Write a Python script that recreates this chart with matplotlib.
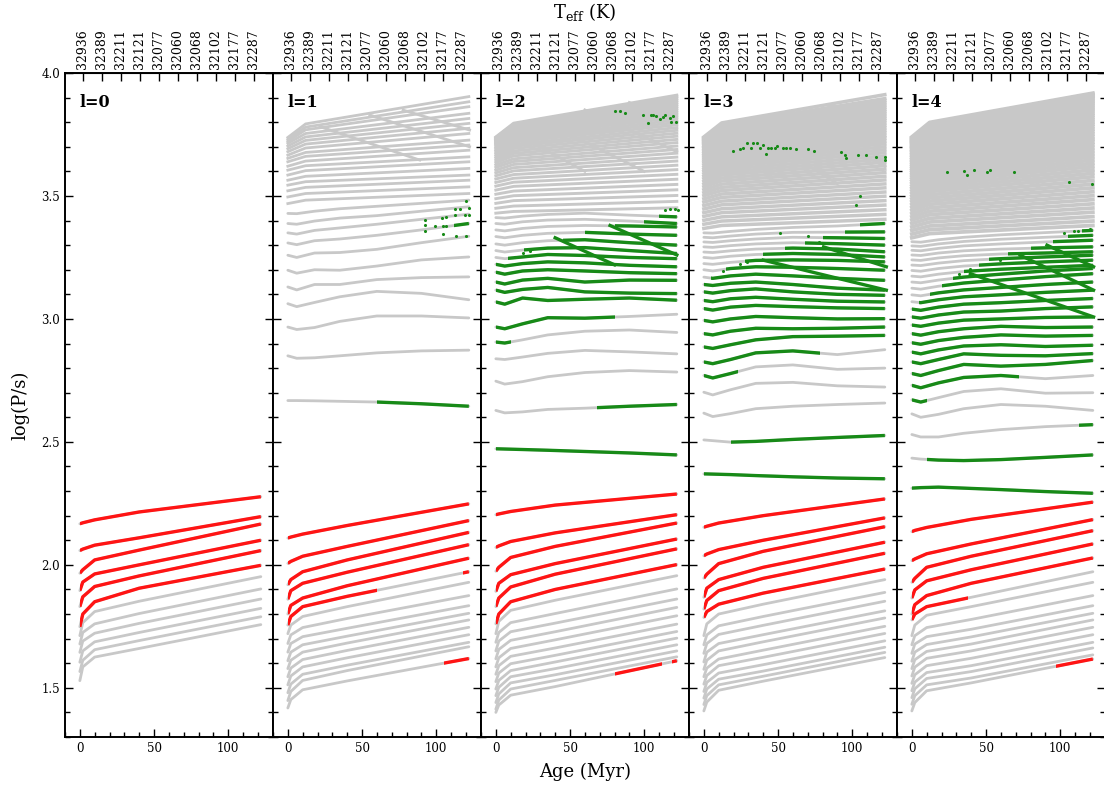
import numpy as np
import matplotlib
matplotlib.use("Agg")
import matplotlib.pyplot as plt
from matplotlib.patches import Rectangle
from matplotlib.ticker import MultipleLocator, FixedLocator, NullLocator

plt.rcParams['font.family'] = ['DejaVu Serif']
plt.rcParams['mathtext.fontset'] = 'dejavuserif'

GRAY = "#c8c8c8"
RED = "#ff1414"
GREEN = "#178a17"

PANEL_LABELS = ["l=0", "l=1", "l=2", "l=3", "l=4"]
TEFF_AGES = [2.0, 14.8, 27.6, 40.4, 53.2, 66.0, 78.8, 91.6, 104.4, 117.2]
TEFF_LABELS = ["32936", "32389", "32211", "32121", "32077", "32060", "32068", "32102", "32177", "32287"]

LOW_AGES = [0, 2, 10, 40, 122]
MID_AGES = [0, 6, 18, 35, 60, 90, 122]
TOP_AGES = [0, 12, 122]

# ---------------- l = 0 ----------------
L0_LOW = [
    [2.167, 2.171, 2.183, 2.215, 2.277],
    [2.058, 2.064, 2.080, 2.110, 2.196],
    [1.966, 1.980, 2.020, 2.060, 2.166],
    [1.895, 1.930, 1.963, 2.000, 2.100],
    [1.830, 1.870, 1.912, 1.955, 2.058],
    [1.748, 1.800, 1.850, 1.905, 1.998],
    [1.712, 1.765, 1.810, 1.852, 1.952],
    [1.678, 1.725, 1.760, 1.802, 1.902],
    [1.644, 1.690, 1.722, 1.762, 1.861],
    [1.604, 1.650, 1.687, 1.725, 1.823],
    [1.566, 1.612, 1.655, 1.692, 1.789],
    [1.529, 1.585, 1.625, 1.660, 1.757],
]
L0_LOW_RED = [[(0, 123)]] * 6 + [[]] * 6

# ---------------- l = 1 ----------------
L1_LOW = [
    [2.109, 2.113, 2.125, 2.160, 2.248],
    [2.006, 2.014, 2.035, 2.075, 2.180],
    [1.919, 1.940, 1.972, 2.020, 2.132],
    [1.860, 1.895, 1.925, 1.970, 2.082],
    [1.800, 1.835, 1.865, 1.915, 2.027],
    [1.755, 1.790, 1.830, 1.872, 1.972],
    [1.720, 1.755, 1.790, 1.830, 1.929],
    [1.680, 1.715, 1.745, 1.782, 1.875],
    [1.645, 1.680, 1.708, 1.742, 1.834],
    [1.610, 1.645, 1.675, 1.710, 1.803],
    [1.578, 1.612, 1.645, 1.682, 1.776],
    [1.545, 1.580, 1.615, 1.652, 1.746],
    [1.512, 1.548, 1.585, 1.622, 1.716],
    [1.480, 1.515, 1.555, 1.592, 1.685],
    [1.448, 1.485, 1.530, 1.570, 1.667],
    [1.418, 1.452, 1.492, 1.528, 1.619],
]
L1_LOW_RED = [[(0, 123)]] * 5 + [[(0, 60), (118, 123)]] + [[]] * 9 + [[(105, 123)]]

L1_MID = [
    [2.668, 2.668, 2.667, 2.665, 2.662, 2.655, 2.645],
    [2.850, 2.840, 2.842, 2.850, 2.862, 2.870, 2.873],
    [2.967, 2.957, 2.965, 2.990, 3.012, 3.012, 3.004],
    [3.062, 3.050, 3.067, 3.090, 3.112, 3.104, 3.078],
    [3.130, 3.118, 3.140, 3.140, 3.160, 3.168, 3.171],
    [3.198, 3.186, 3.200, 3.198, 3.215, 3.240, 3.252],
    [3.259, 3.250, 3.268, 3.270, 3.283, 3.310, 3.336],
    [3.309, 3.302, 3.318, 3.325, 3.340, 3.362, 3.388],
    [3.350, 3.345, 3.360, 3.370, 3.385, 3.405, 3.426],
    [3.388, 3.385, 3.398, 3.410, 3.420, 3.438, 3.456],
    [3.429, 3.428, 3.438, 3.448, 3.458, 3.470, 3.483],
]
L1_MID_GREEN = [[(60, 123)], [], [], [], [], [], [], [(112, 123)], [], [], []]

L1_TOP_V0 = [3.469, 3.496, 3.521, 3.544, 3.564, 3.585, 3.605, 3.621, 3.639, 3.653, 3.666, 3.680, 3.692, 3.703, 3.714, 3.722, 3.730, 3.738]
L1_TOP_V12 = [3.483, 3.510, 3.535, 3.558, 3.580, 3.603, 3.623, 3.642, 3.661, 3.677, 3.695, 3.711, 3.726, 3.740, 3.754, 3.769, 3.780, 3.793]
L1_TOP_V122 = [3.510, 3.537, 3.564, 3.585, 3.612, 3.639, 3.659, 3.686, 3.707, 3.727, 3.754, 3.775, 3.795, 3.815, 3.836, 3.863, 3.883, 3.904]

L1_DIAG_GRAY = [(21.6, 3.782, 88.9, 3.646), (55.3, 3.829, 122.5, 3.700), (77.7, 3.849, 122.5, 3.768)]
L1_DIAG_GREEN = []
L1_GDOTS = [(92.3, 3.404), (92.3, 3.381), (92.3, 3.357), (99.0, 3.378), (104.1, 3.412), (104.6, 3.378),
            (104.6, 3.347), (106.8, 3.415), (106.8, 3.378), (112.5, 3.449), (112.5, 3.422), (113.1, 3.338),
            (115.8, 3.449), (119.2, 3.422), (119.8, 3.336), (120.3, 3.479), (122.1, 3.452), (122.1, 3.422)]

# ---------------- l = 2 ----------------
L2_LOW = [
    [2.204, 2.207, 2.217, 2.243, 2.288],
    [2.071, 2.077, 2.095, 2.130, 2.204],
    [1.974, 1.990, 2.030, 2.075, 2.170],
    [1.892, 1.925, 1.960, 2.005, 2.105],
    [1.830, 1.865, 1.910, 1.962, 2.065],
    [1.760, 1.800, 1.850, 1.900, 2.001],
    [1.720, 1.770, 1.815, 1.856, 1.956],
    [1.685, 1.725, 1.765, 1.802, 1.902],
    [1.650, 1.690, 1.728, 1.763, 1.861],
    [1.618, 1.656, 1.693, 1.728, 1.827],
    [1.585, 1.622, 1.660, 1.695, 1.793],
    [1.555, 1.590, 1.628, 1.662, 1.759],
    [1.525, 1.560, 1.598, 1.632, 1.729],
    [1.495, 1.530, 1.570, 1.605, 1.702],
    [1.468, 1.502, 1.545, 1.578, 1.675],
    [1.440, 1.475, 1.520, 1.553, 1.650],
    [1.413, 1.450, 1.495, 1.530, 1.626],
    [1.400, 1.430, 1.470, 1.505, 1.610],
]
L2_LOW_RED = [[(0, 123)]] * 6 + [[]] * 11 + [[(80, 112), (119, 123)]]

L2_MID = [
    [2.472, 2.471, 2.469, 2.466, 2.461, 2.455, 2.447],
    [2.628, 2.618, 2.622, 2.632, 2.637, 2.645, 2.652],
    [2.747, 2.735, 2.745, 2.765, 2.782, 2.790, 2.784],
    [2.838, 2.835, 2.845, 2.860, 2.872, 2.866, 2.858],
    [2.906, 2.902, 2.915, 2.935, 2.950, 2.955, 2.945],
    [2.967, 2.960, 2.980, 3.005, 3.003, 3.010, 3.019],
    [3.069, 3.060, 3.085, 3.075, 3.080, 3.085, 3.076],
    [3.117, 3.108, 3.120, 3.128, 3.110, 3.105, 3.103],
    [3.150, 3.142, 3.158, 3.165, 3.150, 3.158, 3.157],
    [3.190, 3.182, 3.195, 3.200, 3.195, 3.188, 3.184],
    [3.222, 3.215, 3.225, 3.232, 3.228, 3.218, 3.212],
    [3.250, 3.245, 3.252, 3.262, 3.258, 3.250, 3.245],
    [3.278, 3.272, 3.280, 3.288, 3.290, 3.278, 3.266],
    [3.305, 3.300, 3.310, 3.318, 3.322, 3.310, 3.300],
    [3.335, 3.330, 3.340, 3.348, 3.352, 3.345, 3.340],
    [3.362, 3.358, 3.368, 3.376, 3.380, 3.378, 3.374],
    [3.388, 3.385, 3.395, 3.402, 3.405, 3.398, 3.388],
    [3.412, 3.410, 3.418, 3.425, 3.430, 3.422, 3.415],
]
L2_MID_GREEN = [[(0, 123)], [(68, 123)], [], [], [(0, 10)], [(0, 80)],
                [(0, 123)], [(0, 123)], [(0, 123)], [(0, 123)], [(0, 123)],
                [(8, 123)], [(19, 123)], [(45, 123)], [(60, 123)], [(80, 123)], [(100, 123)], [(110, 123)]]

L2_TOP_V0 = [3.430, 3.450, 3.470, 3.489, 3.507, 3.524, 3.540, 3.555, 3.569, 3.582, 3.594, 3.605, 3.616, 3.626, 3.636, 3.645, 3.654, 3.662,
             3.670, 3.677, 3.684, 3.690, 3.696, 3.702, 3.707, 3.712, 3.716, 3.720, 3.724, 3.727, 3.730, 3.733, 3.736, 3.738, 3.740]
L2_TOP_V12 = [3.437, 3.459, 3.481, 3.501, 3.520, 3.539, 3.556, 3.572, 3.587, 3.602, 3.615, 3.628, 3.640, 3.651, 3.663, 3.673, 3.683, 3.693,
              3.702, 3.710, 3.719, 3.726, 3.733, 3.741, 3.747, 3.753, 3.759, 3.765, 3.770, 3.775, 3.779, 3.784, 3.788, 3.792, 3.796]
L2_TOP_V122 = [3.452, 3.478, 3.502, 3.525, 3.547, 3.568, 3.588, 3.607, 3.625, 3.642, 3.658, 3.674, 3.689, 3.703, 3.717, 3.730, 3.743, 3.755,
               3.767, 3.778, 3.789, 3.799, 3.809, 3.819, 3.828, 3.837, 3.846, 3.855, 3.863, 3.871, 3.879, 3.887, 3.895, 3.903, 3.910]

L2_DIAG_GRAY = [(8, 3.77, 60, 3.60), (30, 3.81, 100, 3.60), (60, 3.85, 122, 3.68), (90, 3.88, 122, 3.80)]
L2_DIAG_GREEN = [(77, 3.38, 122, 3.26), (40, 3.33, 80, 3.22)]
L2_GDOTS = [(80.2, 3.847), (83.5, 3.845), (87.3, 3.839), (99.2, 3.829), (102.6, 3.795), (104.8, 3.829), (105.9, 3.829),
            (108.2, 3.825), (110.4, 3.811), (112.7, 3.822), (113.8, 3.829), (117.2, 3.815), (118.3, 3.802), (119.4, 3.825),
            (121.6, 3.802), (113.8, 3.442), (117.2, 3.445), (120.6, 3.446), (122.8, 3.442), (12.9, 3.250), (18.5, 3.268),
            (23.0, 3.277)]

# ---------------- l = 3 ----------------
L3_LOW = [
    [2.153, 2.157, 2.170, 2.200, 2.268],
    [2.037, 2.044, 2.062, 2.100, 2.191],
    [1.946, 1.962, 2.005, 2.055, 2.155],
    [1.868, 1.905, 1.940, 1.990, 2.092],
    [1.820, 1.855, 1.895, 1.945, 2.047],
    [1.786, 1.810, 1.840, 1.885, 1.983],
    [1.712, 1.760, 1.800, 1.840, 1.940],
    [1.675, 1.715, 1.752, 1.790, 1.888],
    [1.640, 1.680, 1.717, 1.754, 1.852],
    [1.605, 1.645, 1.680, 1.716, 1.813],
    [1.575, 1.612, 1.650, 1.687, 1.784],
    [1.545, 1.580, 1.617, 1.653, 1.750],
    [1.515, 1.550, 1.590, 1.624, 1.721],
    [1.485, 1.522, 1.560, 1.594, 1.691],
    [1.458, 1.495, 1.535, 1.568, 1.665],
    [1.432, 1.468, 1.512, 1.547, 1.644],
    [1.406, 1.442, 1.490, 1.527, 1.623],
]
L3_LOW_RED = [[(0, 123)]] * 6 + [[]] * 11

L3_MID = [
    [2.370, 2.369, 2.367, 2.363, 2.358, 2.353, 2.350],
    [2.508, 2.505, 2.499, 2.502, 2.510, 2.518, 2.526],
    [2.617, 2.603, 2.615, 2.635, 2.645, 2.652, 2.658],
    [2.702, 2.691, 2.712, 2.738, 2.742, 2.728, 2.723],
    [2.770, 2.760, 2.778, 2.805, 2.813, 2.795, 2.800],
    [2.825, 2.818, 2.835, 2.862, 2.870, 2.855, 2.875],
    [2.886, 2.880, 2.895, 2.915, 2.928, 2.930, 2.933],
    [2.940, 2.935, 2.950, 2.962, 2.960, 2.962, 2.967],
    [2.994, 2.988, 3.000, 3.010, 3.005, 3.000, 3.001],
    [3.042, 3.036, 3.048, 3.055, 3.050, 3.045, 3.042],
    [3.075, 3.070, 3.082, 3.088, 3.080, 3.072, 3.069],
    [3.110, 3.105, 3.115, 3.122, 3.110, 3.100, 3.096],
    [3.140, 3.136, 3.145, 3.150, 3.140, 3.125, 3.117],
    [3.170, 3.165, 3.175, 3.182, 3.175, 3.165, 3.157],
    [3.200, 3.195, 3.205, 3.212, 3.210, 3.205, 3.198],
    [3.225, 3.222, 3.230, 3.238, 3.240, 3.238, 3.232],
    [3.250, 3.247, 3.255, 3.262, 3.266, 3.262, 3.252],
    [3.272, 3.270, 3.277, 3.284, 3.288, 3.284, 3.273],
    [3.293, 3.291, 3.298, 3.305, 3.310, 3.306, 3.300],
    [3.313, 3.311, 3.318, 3.325, 3.332, 3.330, 3.327],
    [3.332, 3.330, 3.337, 3.345, 3.352, 3.353, 3.354],
    [3.350, 3.349, 3.356, 3.364, 3.372, 3.378, 3.388],
]
L3_MID_GREEN = [[(0, 123)], [(18, 123)], [], [], [(0, 23)], [(0, 78)],
                [(0, 123)], [(0, 123)], [(0, 123)], [(0, 123)], [(0, 123)], [(0, 123)], [(0, 123)], [(5, 123)],
                [(15, 123)], [(28, 123)], [(40, 123)], [(55, 123)], [(68, 123)], [(80, 123)], [(95, 123)], [(105, 123)]]

L3_TOP_V0 = [3.368, 3.385, 3.401, 3.417, 3.432, 3.447, 3.461, 3.475, 3.488, 3.501, 3.513, 3.525, 3.537, 3.548, 3.559, 3.570, 3.580,
             3.590, 3.600, 3.609, 3.618, 3.627, 3.636, 3.644, 3.652, 3.660, 3.667, 3.674, 3.681, 3.688, 3.694, 3.700, 3.706, 3.711,
             3.716, 3.721, 3.725, 3.729, 3.733, 3.737, 3.740]
L3_TOP_V12 = [3.380, 3.398, 3.415, 3.432, 3.448, 3.464, 3.479, 3.494, 3.508, 3.522, 3.535, 3.548, 3.561, 3.573, 3.585, 3.596, 3.607,
              3.618, 3.629, 3.639, 3.649, 3.659, 3.668, 3.677, 3.686, 3.695, 3.703, 3.711, 3.719, 3.727, 3.734, 3.741, 3.748, 3.754,
              3.761, 3.767, 3.773, 3.778, 3.784, 3.789, 3.797]
L3_TOP_V122 = [3.405, 3.425, 3.444, 3.463, 3.481, 3.499, 3.516, 3.533, 3.549, 3.565, 3.580, 3.595, 3.609, 3.623, 3.637, 3.650, 3.663,
               3.676, 3.688, 3.700, 3.712, 3.723, 3.734, 3.745, 3.756, 3.766, 3.776, 3.786, 3.796, 3.806, 3.815, 3.824, 3.833, 3.842,
               3.851, 3.860, 3.869, 3.878, 3.887, 3.896, 3.912]

L3_DIAG_GRAY = [(5, 3.76, 50, 3.58), (25, 3.79, 90, 3.55), (55, 3.83, 122, 3.62), (85, 3.87, 122, 3.74)]
L3_DIAG_GREEN = [(40, 3.239, 123, 3.117), (80.7, 3.293, 123, 3.212)]
L3_GDOTS = [(19.8, 3.684), (24.3, 3.689), (26.5, 3.693), (28.8, 3.714), (32.1, 3.697), (33.3, 3.714), (35.5, 3.714),
            (37.8, 3.696), (40.0, 3.707), (41.8, 3.670), (43.4, 3.697), (45.6, 3.693), (47.9, 3.697), (49.4, 3.703),
            (53.5, 3.697), (55.7, 3.693), (57.9, 3.693), (62.0, 3.689), (70.3, 3.689), (74.1, 3.684), (92.7, 3.680),
            (95.0, 3.666), (96.1, 3.653), (103.9, 3.666), (109.5, 3.666), (116.3, 3.657), (121.9, 3.659), (121.9, 3.646),
            (105.1, 3.500), (102.8, 3.463), (51.2, 3.351), (70.3, 3.336), (77.7, 3.313), (24.3, 3.222), (28.8, 3.232),
            (13.1, 3.195)]

# ---------------- l = 4 ----------------
L4_LOW = [
    [2.135, 2.140, 2.152, 2.185, 2.255],
    [2.017, 2.024, 2.045, 2.085, 2.184],
    [1.929, 1.945, 1.990, 2.035, 2.139],
    [1.865, 1.898, 1.935, 1.980, 2.085],
    [1.800, 1.838, 1.875, 1.925, 2.028],
    [1.776, 1.800, 1.830, 1.868, 1.972],
    [1.712, 1.755, 1.795, 1.830, 1.929],
    [1.675, 1.712, 1.745, 1.778, 1.875],
    [1.640, 1.678, 1.708, 1.738, 1.834],
    [1.608, 1.645, 1.676, 1.707, 1.803],
    [1.578, 1.614, 1.648, 1.678, 1.776],
    [1.548, 1.584, 1.620, 1.650, 1.746],
    [1.518, 1.553, 1.590, 1.620, 1.716],
    [1.488, 1.523, 1.562, 1.590, 1.685],
    [1.460, 1.496, 1.538, 1.566, 1.662],
    [1.433, 1.468, 1.512, 1.540, 1.634],
    [1.406, 1.440, 1.488, 1.520, 1.617],
]
L4_LOW_RED = [[(0, 123)]] * 5 + [[(0, 38)]] + [[]] * 10 + [[(97, 123)]]

L4_MID = [
    [2.312, 2.314, 2.316, 2.312, 2.306, 2.298, 2.291],
    [2.434, 2.430, 2.426, 2.424, 2.428, 2.437, 2.447],
    [2.530, 2.520, 2.520, 2.535, 2.550, 2.562, 2.570],
    [2.614, 2.600, 2.612, 2.635, 2.652, 2.645, 2.628],
    [2.671, 2.662, 2.680, 2.705, 2.716, 2.698, 2.700],
    [2.730, 2.720, 2.740, 2.762, 2.770, 2.757, 2.770],
    [2.778, 2.770, 2.790, 2.815, 2.808, 2.815, 2.831],
    [2.825, 2.818, 2.835, 2.858, 2.852, 2.850, 2.859],
    [2.865, 2.858, 2.874, 2.890, 2.895, 2.888, 2.893],
    [2.903, 2.897, 2.912, 2.925, 2.935, 2.930, 2.933],
    [2.940, 2.934, 2.948, 2.960, 2.970, 2.965, 2.967],
    [2.975, 2.970, 2.983, 2.995, 3.000, 3.006, 3.008],
    [3.008, 3.003, 3.016, 3.028, 3.032, 3.042, 3.049],
    [3.040, 3.035, 3.048, 3.060, 3.066, 3.075, 3.083],
    [3.070, 3.066, 3.078, 3.090, 3.098, 3.108, 3.117],
    [3.098, 3.094, 3.106, 3.118, 3.128, 3.140, 3.150],
    [3.125, 3.121, 3.133, 3.146, 3.158, 3.172, 3.184],
    [3.150, 3.147, 3.158, 3.170, 3.182, 3.195, 3.205],
    [3.174, 3.171, 3.182, 3.193, 3.202, 3.210, 3.218],
    [3.197, 3.194, 3.205, 3.215, 3.224, 3.232, 3.239],
    [3.219, 3.217, 3.227, 3.237, 3.245, 3.252, 3.259],
    [3.240, 3.238, 3.248, 3.257, 3.264, 3.268, 3.273],
    [3.260, 3.258, 3.268, 3.277, 3.284, 3.289, 3.293],
    [3.279, 3.277, 3.287, 3.297, 3.305, 3.313, 3.320],
    [3.297, 3.295, 3.305, 3.315, 3.324, 3.332, 3.340],
    [3.314, 3.312, 3.322, 3.332, 3.342, 3.351, 3.360],
]
L4_MID_GREEN = [[(0, 123)], [(10, 123)], [(113, 123)], [], [(0, 10)], [(0, 72)], [(0, 123)],
                [(0, 123)], [(0, 123)], [(0, 123)], [(0, 123)], [(0, 123)], [(0, 123)], [(0, 123)],
                [(5, 123)], [(12, 123)], [(20, 123)], [(28, 123)], [(35, 123)], [(45, 123)], [(52, 123)],
                [(65, 123)], [(80, 123)], [(95, 123)], [(105, 123)], [(115, 123)]]

L4_TOP_V0 = [3.330, 3.345, 3.360, 3.374, 3.388, 3.402, 3.415, 3.428, 3.441, 3.453, 3.465, 3.477, 3.488, 3.499, 3.510, 3.521,
             3.531, 3.541, 3.551, 3.561, 3.570, 3.579, 3.588, 3.597, 3.605, 3.613, 3.621, 3.629, 3.637, 3.644, 3.651, 3.658,
             3.665, 3.672, 3.678, 3.684, 3.690, 3.696, 3.701, 3.706, 3.711, 3.716, 3.720, 3.724, 3.728, 3.732, 3.736, 3.740]
L4_TOP_V12 = [3.347, 3.363, 3.378, 3.394, 3.409, 3.424, 3.438, 3.452, 3.466, 3.479, 3.492, 3.505, 3.518, 3.530, 3.542, 3.554,
              3.565, 3.576, 3.587, 3.597, 3.607, 3.617, 3.627, 3.637, 3.646, 3.655, 3.664, 3.673, 3.681, 3.689, 3.697, 3.705,
              3.713, 3.720, 3.727, 3.734, 3.741, 3.748, 3.754, 3.760, 3.766, 3.771, 3.776, 3.781, 3.786, 3.791, 3.795, 3.799]
L4_TOP_V122 = [3.380, 3.398, 3.416, 3.434, 3.451, 3.468, 3.485, 3.501, 3.517, 3.533, 3.548, 3.563, 3.578, 3.592, 3.606, 3.620,
               3.633, 3.646, 3.659, 3.671, 3.683, 3.695, 3.707, 3.718, 3.729, 3.740, 3.751, 3.761, 3.771, 3.781, 3.791, 3.800,
               3.809, 3.818, 3.827, 3.836, 3.845, 3.853, 3.861, 3.869, 3.877, 3.884, 3.891, 3.898, 3.905, 3.910, 3.915, 3.918]

L4_DIAG_GRAY = [(5, 3.76, 45, 3.57), (25, 3.79, 85, 3.55), (55, 3.83, 122, 3.60), (85, 3.87, 122, 3.73)]
L4_DIAG_GREEN = [(39.5, 3.184, 122.5, 3.008), (73, 3.259, 122.5, 3.117), (91.1, 3.300, 122.5, 3.212)]
L4_GDOTS = [(23.8, 3.598), (35.1, 3.602), (36.9, 3.587), (42.2, 3.604), (50.8, 3.596), (53.0, 3.605), (68.7, 3.596),
            (105.7, 3.555), (121.2, 3.550), (102.4, 3.350), (109.1, 3.358), (112.0, 3.358), (120.3, 3.364),
            (31.7, 3.184), (39.5, 3.205), (59.7, 3.241)]

PANELS = [
    dict(low=L0_LOW, low_red=L0_LOW_RED, mid=[], mid_green=[], top=([], [], []), dg=[], dgn=[], dots=[]),
    dict(low=L1_LOW, low_red=L1_LOW_RED, mid=L1_MID, mid_green=L1_MID_GREEN,
         top=(L1_TOP_V0, L1_TOP_V12, L1_TOP_V122), dg=L1_DIAG_GRAY, dgn=L1_DIAG_GREEN, dots=L1_GDOTS),
    dict(low=L2_LOW, low_red=L2_LOW_RED, mid=L2_MID, mid_green=L2_MID_GREEN,
         top=(L2_TOP_V0, L2_TOP_V12, L2_TOP_V122), dg=L2_DIAG_GRAY, dgn=L2_DIAG_GREEN, dots=L2_GDOTS),
    dict(low=L3_LOW, low_red=L3_LOW_RED, mid=L3_MID, mid_green=L3_MID_GREEN,
         top=(L3_TOP_V0, L3_TOP_V12, L3_TOP_V122), dg=L3_DIAG_GRAY, dgn=L3_DIAG_GREEN, dots=L3_GDOTS),
    dict(low=L4_LOW, low_red=L4_LOW_RED, mid=L4_MID, mid_green=L4_MID_GREEN,
         top=(L4_TOP_V0, L4_TOP_V12, L4_TOP_V122), dg=L4_DIAG_GRAY, dgn=L4_DIAG_GREEN, dots=L4_GDOTS),
]
TOP_LW = [2.0, 2.0, 2.1, 2.5, 2.7]

W, H = 1104, 787
fig = plt.figure(figsize=(W / 100, H / 100), dpi=100)
pw = 208 / W
ph = 664 / H
pb = 1 - 737 / H
pl = 65 / W

LW_GRAY = 2.0
LW_COL = 2.4


def draw_curve(ax, ages, vals, ranges, color):
    ax.plot(ages, vals, color=GRAY, lw=LW_GRAY, solid_capstyle='round', zorder=2)
    for a0, a1 in ranges:
        ln, = ax.plot(ages, vals, color=color, lw=LW_COL, solid_capstyle='butt', zorder=3)
        clip = Rectangle((a0, 0), a1 - a0, 10, transform=ax.transData)
        ln.set_clip_path(clip)


for i, P in enumerate(PANELS):
    ax = fig.add_axes([pl + i * pw, pb, pw, ph])
    ax.set_xlim(-10, 130.2)
    ax.set_ylim(1.3, 4.0)

    v0, v12, v122 = P['top']
    for a, b, c in zip(v0, v12, v122):
        ax.plot(TOP_AGES, [a, b, c], color=GRAY, lw=TOP_LW[i], zorder=1)
    for a0, y0, a1, y1 in P['dg']:
        ax.plot([a0, a1], [y0, y1], color=GRAY, lw=LW_GRAY, zorder=1.5)
    for vals, rng in zip(P['low'], P['low_red']):
        draw_curve(ax, LOW_AGES, vals, rng, RED)
    for vals, rng in zip(P['mid'], P['mid_green']):
        draw_curve(ax, MID_AGES, vals, rng, GREEN)
    for a0, y0, a1, y1 in P['dgn']:
        ax.plot([a0, a1], [y0, y1], color=GREEN, lw=LW_COL, zorder=3)
    if P['dots']:
        ax.scatter([d[0] for d in P['dots']], [d[1] for d in P['dots']], s=5, color=GREEN, zorder=4, linewidths=0)

    ax.xaxis.set_major_locator(FixedLocator([0, 50, 100]))
    ax.xaxis.set_minor_locator(MultipleLocator(10))
    ax.yaxis.set_major_locator(MultipleLocator(0.5))
    ax.yaxis.set_minor_locator(MultipleLocator(0.1))
    ax.tick_params(which='both', direction='in', top=False, right=True, left=True, bottom=True,
                   labelsize=8.5, width=1.0)
    ax.tick_params(which='major', length=6)
    ax.tick_params(which='minor', length=3.5)
    if i > 0:
        ax.tick_params(labelleft=False)
    for sp in ax.spines.values():
        sp.set_linewidth(1.4)

    sec = ax.secondary_xaxis('top')
    sec.xaxis.set_major_locator(FixedLocator(TEFF_AGES))
    sec.set_xticklabels(TEFF_LABELS, rotation=90, fontsize=9)
    sec.xaxis.set_minor_locator(NullLocator())
    sec.tick_params(direction='in', length=6, width=1.0, pad=3)

    ax.text(0.07, 0.955, PANEL_LABELS[i], transform=ax.transAxes, fontsize=11.5,
            fontweight='bold', va='center', ha='left')

fig.text(20 / W, 1 - 405 / H, 'log(P/s)', rotation=90, fontsize=13, ha='center', va='center')
fig.text(585 / W, 1 - 772 / H, 'Age (Myr)', fontsize=13, ha='center', va='center')
fig.text(585 / W, 1 - 12 / H, r'T$_{\rm eff}$ (K)', fontsize=13, ha='center', va='center')

fig.savefig('out.png', dpi=100)
